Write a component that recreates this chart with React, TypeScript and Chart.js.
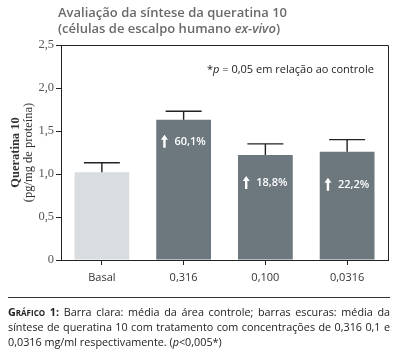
import React, { useEffect, useRef } from "react";
import { Chart, registerables } from "chart.js";

Chart.register(...registerables);

const categories = ["Basal", "0,316", "0,100", "0,0316"];
const means = [1.02, 1.63, 1.22, 1.26];
const errorTops = [1.13, 1.73, 1.35, 1.40];
const percentLabels = ["", "60,1%", "18,8%", "22,2%"];
const yTickLabels = ["0", "0,5", "1,0", "1,5", "2,0", "2,5"];
const barColors = ["#d9dde0", "#6c787e", "#6c787e", "#6c787e"];

const SANS = '"Open Sans", "Noto Sans", sans-serif';
const SERIF = '"Liberation Serif", "DejaVu Serif", serif';

const overlayPlugin = {
  id: "overlay",
  afterDatasetsDraw(chart: any) {
    const ctx = chart.ctx;
    const area = chart.chartArea;
    const y = chart.scales.y;
    const meta = chart.getDatasetMeta(0);
    ctx.save();
    // frame (top and right)
    ctx.strokeStyle = "#222";
    ctx.lineWidth = 1;
    ctx.beginPath();
    ctx.moveTo(Math.round(area.left) + 0.5, Math.round(area.top) + 0.5);
    ctx.lineTo(Math.round(area.right) + 0.5, Math.round(area.top) + 0.5);
    ctx.lineTo(Math.round(area.right) + 0.5, Math.round(area.bottom) + 0.5);
    ctx.stroke();

    // error bars
    ctx.lineWidth = 1.4;
    meta.data.forEach((bar: any, i: number) => {
      const x = bar.x;
      const yt = y.getPixelForValue(errorTops[i]);
      const yb = y.getPixelForValue(means[i]);
      ctx.beginPath();
      ctx.moveTo(x, yb);
      ctx.lineTo(x, yt);
      ctx.moveTo(x - 18, yt);
      ctx.lineTo(x + 18, yt);
      ctx.stroke();
    });

    // percent labels with arrows
    const offsets = [0, 22, 28, 33];
    ctx.fillStyle = "#ffffff";
    ctx.font = `600 11px ${SANS}`;
    ctx.textBaseline = "middle";
    meta.data.forEach((bar: any, i: number) => {
      const t = percentLabels[i];
      if (!t) return;
      const cy = y.getPixelForValue(means[i]) + offsets[i];
      const tw = ctx.measureText(t).width;
      const gap = 7;
      const aw = 6;
      const total = aw + gap + tw;
      const x0 = bar.x - total / 2;
      const ax = x0 + aw / 2;
      ctx.beginPath();
      ctx.moveTo(ax, cy - 7);
      ctx.lineTo(ax + 3.5, cy - 2);
      ctx.lineTo(ax + 1.2, cy - 2);
      ctx.lineTo(ax + 1.2, cy + 6);
      ctx.lineTo(ax - 1.2, cy + 6);
      ctx.lineTo(ax - 1.2, cy - 2);
      ctx.lineTo(ax - 3.5, cy - 2);
      ctx.closePath();
      ctx.fill();
      ctx.textAlign = "left";
      ctx.fillText(t, x0 + aw + gap, cy);
    });

    // annotation
    ctx.fillStyle = "#222";
    ctx.textAlign = "left";
    ctx.textBaseline = "middle";
    let ax = 207;
    const ay = 70;
    ctx.font = `11px ${SANS}`;
    ctx.fillText("*", ax, ay);
    ax += ctx.measureText("*").width;
    ctx.font = `italic 11px ${SANS}`;
    ctx.fillText("p", ax, ay);
    ax += ctx.measureText("p").width;
    ctx.font = `11px ${SANS}`;
    ctx.fillText(" = 0,05 em relação ao controle", ax, ay);

    // y axis title
    const cyT = (area.top + area.bottom) / 2;
    ctx.fillStyle = "#333";
    ctx.textAlign = "center";
    ctx.save();
    ctx.translate(16, cyT);
    ctx.rotate(-Math.PI / 2);
    ctx.font = `bold 12.5px ${SERIF}`;
    ctx.fillText("Queratina 10", 0, 0);
    ctx.restore();
    ctx.save();
    ctx.translate(29, cyT);
    ctx.rotate(-Math.PI / 2);
    ctx.font = `12.5px ${SERIF}`;
    ctx.fillText("(pg/mg de proteína)", 0, 0);
    ctx.restore();

    ctx.restore();
  },
};

export default function App() {
  const ref = useRef<HTMLCanvasElement | null>(null);
  useEffect(() => {
    if (!ref.current) return;
    const chart = new Chart(ref.current, {
      type: "bar",
      data: {
        labels: categories,
        datasets: [
          {
            data: means,
            backgroundColor: barColors,
            borderWidth: 0,
            barPercentage: 0.67,
            categoryPercentage: 1,
          },
        ],
      },
      options: {
        animation: false,
        responsive: false,
        devicePixelRatio: 1,
        layout: { padding: { left: 0, right: 10, top: 45, bottom: 51 } },
        plugins: { legend: { display: false }, tooltip: { enabled: false }, title: { display: false } },
        scales: {
          x: {
            grid: { offset: false, drawOnChartArea: false, drawTicks: true, tickLength: 5, color: "#222" },
            border: { display: true, color: "#222", width: 1 },
            ticks: { color: "#333", font: { family: SANS, size: 11 }, padding: 6 },
            afterFit: (s: any) => {
              s.height = 40;
            },
          },
          y: {
            min: 0,
            max: 2.5,
            grid: { drawOnChartArea: false, drawTicks: true, tickLength: 5, color: "#222" },
            border: { display: true, color: "#222", width: 1 },
            ticks: {
              stepSize: 0.5,
              color: "#555",
              padding: 2,
              font: { family: SERIF, size: 12.5 },
              callback: (_v: any, i: number) => yTickLabels[i],
            },
            afterFit: (s: any) => {
              s.width = 61;
            },
          },
        },
      },
      plugins: [overlayPlugin],
    });
    return () => chart.destroy();
  }, []);

  return (
    <div style={{ position: "absolute", left: 0, top: 0, width: 398, height: 351, background: "#fff", overflow: "hidden" }}>
      <canvas ref={ref} width={398} height={351} style={{ position: "absolute", left: 0, top: 0, width: 398, height: 351 }} />
      <div
        style={{
          position: "absolute",
          left: 58,
          top: 4,
          fontFamily: SANS,
          fontSize: 13,
          fontWeight: 600,
          color: "#6a6a6a",
          lineHeight: "16px",
        }}
      >
        <div>Avaliação da síntese da queratina 10</div>
        <div>
          (células de escalpo humano <i>ex-vivo</i>)
        </div>
      </div>
      <div style={{ position: "absolute", left: 8, top: 297, width: 382, borderTop: "1px solid #333" }} />
      <div
        style={{
          position: "absolute",
          left: 8,
          top: 304,
          width: 382,
          fontFamily: SANS,
          fontSize: 10.8,
          lineHeight: "15px",
          color: "#222",
          textAlign: "justify",
        }}
      >
        <b style={{ fontVariant: "small-caps" }}>Gráfico 1:</b> Barra clara: média da área controle; barras escuras: média da
        síntese de queratina 10 com tratamento com concentrações de 0,316 0,1 e 0,0316 mg/ml respectivamente. (<i>p</i>&lt;0,005*)
      </div>
    </div>
  );
}
